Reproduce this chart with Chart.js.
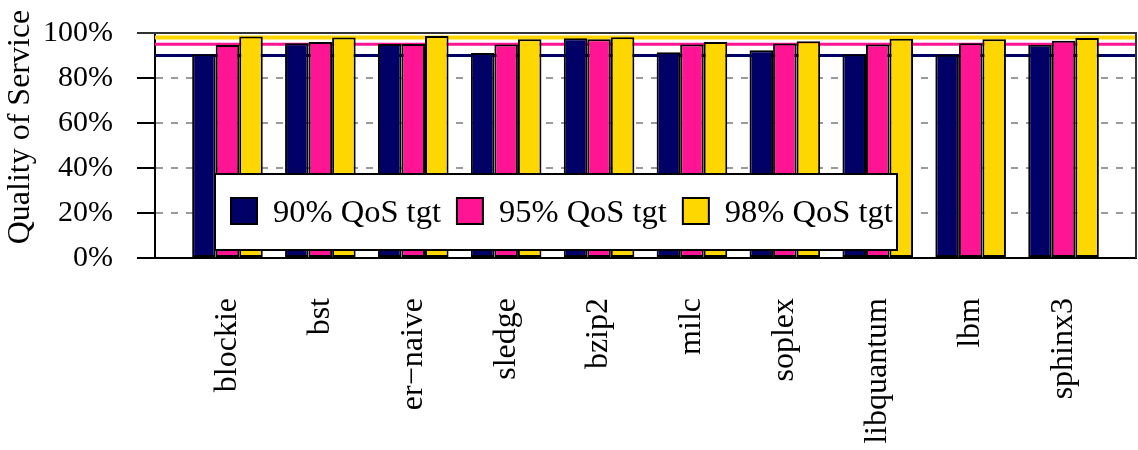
<!DOCTYPE html>
<html><head><meta charset="utf-8">
<script src="https://cdn.jsdelivr.net/npm/chart.js@4.4.1/dist/chart.umd.min.js"></script>
<style>html,body{margin:0;padding:0;background:#fff;}#wrap{width:1138px;height:450px;}</style>
</head><body><div id="wrap"><canvas id="c" width="1138" height="450"></canvas></div>
<script>
const categories = ['blockie','bst','er\u2212naive','sledge','bzip2','milc','soplex','libquantum','lbm','sphinx3'];
const seriesNames = ['90% QoS tgt','95% QoS tgt','98% QoS tgt'];
const qos90 = [90.6, 95.4, 95.1, 91.1, 97.7, 91.5, 92.3, 90.6, 90.3, 94.8];
const qos95 = [94.7, 96.0, 95.1, 94.9, 97.2, 94.9, 95.3, 94.9, 95.5, 96.6];
const qos98 = [98.4, 98.0, 98.7, 97.2, 98.1, 96.0, 96.3, 97.4, 97.2, 97.8];
const targetLines = [90, 95, 98];
const yTicks = [0, 20, 40, 60, 80, 100];
const colors = ['#000066', '#ff1493', '#ffd700'];
const FONT = '"Liberation Serif", "DejaVu Serif", serif';

const series = [qos90, qos95, qos98];

const decor = {
  id: 'decor',
  beforeDatasetsDraw(chart) {
    const {ctx, chartArea: a, scales: {y}} = chart;
    ctx.save();
    targetLines.forEach((v, i) => {
      ctx.strokeStyle = colors[i];
      ctx.lineWidth = i === 2 ? 4 : 3;
      const py = y.getPixelForValue(v);
      ctx.beginPath(); ctx.moveTo(a.left, py); ctx.lineTo(a.right, py); ctx.stroke();
    });
    ctx.restore();
  },
  afterDatasetsDraw(chart) {
    const {ctx, chartArea: a} = chart;
    ctx.save();
    // frame top & right
    ctx.strokeStyle = '#333'; ctx.lineWidth = 2;
    ctx.beginPath(); ctx.moveTo(a.left - 18, a.top); ctx.lineTo(a.right, a.top); ctx.lineTo(a.right, a.bottom); ctx.stroke();
    // legend
    const lx = 215, ly = 174, lw = 682, lh = 76;
    ctx.fillStyle = '#fff'; ctx.fillRect(lx, ly, lw, lh);
    ctx.strokeStyle = '#000'; ctx.lineWidth = 2; ctx.strokeRect(lx, ly, lw, lh);
    ctx.font = '32.5px ' + FONT; ctx.textBaseline = 'alphabetic'; ctx.textAlign = 'left';
    let x = lx + 16;
    seriesNames.forEach((name, i) => {
      ctx.fillStyle = colors[i]; ctx.fillRect(x, 198, 26, 26);
      ctx.strokeStyle = '#000'; ctx.lineWidth = 2; ctx.strokeRect(x, 198, 26, 26);
      ctx.fillStyle = '#000'; ctx.fillText(name, x + 42, 222);
      x += 42 + ctx.measureText(name).width + 16;
    });
    // y title
    ctx.translate(21, 127); ctx.rotate(-Math.PI / 2);
    ctx.textAlign = 'center'; ctx.textBaseline = 'middle'; ctx.font = '32px ' + FONT; ctx.fillStyle = '#000';
    ctx.fillText('Quality of Service', 0, 0);
    ctx.restore();
  }
};

new Chart(document.getElementById('c'), {
  type: 'bar',
  data: {
    datasets: series.map((vals, i) => ({
      label: seriesNames[i],
      data: vals.map((v, j) => ({x: j, y: v})),
      backgroundColor: colors[i],
      borderColor: '#000',
      borderWidth: 2,
      borderSkipped: false,
      categoryPercentage: 0.76,
      barPercentage: 1.0
    }))
  },
  options: {
    responsive: false,
    animation: false,
    devicePixelRatio: 1,
    layout: {padding: {top: 33, right: 2, left: 0, bottom: 0}},
    plugins: {legend: {display: false}, tooltip: {enabled: false}},
    scales: {
      x: {
        type: 'linear', min: -0.78, max: 9.78, offset: false,
        afterBuildTicks: s => { s.ticks = categories.map((_, i) => ({value: i})); },
        afterFit: s => { s.height = 192; s.paddingTop = 0; s.paddingBottom = 0; s.paddingLeft = 0; s.paddingRight = 0; },
        grid: {display: false, drawTicks: false, offset: false},
        border: {display: true, color: '#000', width: 2},
        ticks: {
          autoSkip: false, maxRotation: 90, minRotation: 90, padding: 40,
          color: '#000', font: {family: FONT, size: 32},
          callback: v => categories[v]
        }
      },
      y: {
        min: 0, max: 100,
        afterBuildTicks: s => { s.ticks = yTicks.map(v => ({value: v})); },
        afterFit: s => { s.width = 155; s.paddingTop = 0; s.paddingBottom = 0; },
        grid: {
          color: c => (c.tick && (c.tick.value === 0 || c.tick.value === 100)) ? 'rgba(0,0,0,0)' : '#9a9a9a',
          lineWidth: 2, tickLength: 18, tickColor: '#000', tickWidth: 2
        },
        border: {display: true, color: '#000', width: 2, dash: [7, 8]},
        ticks: {color: '#000', padding: 24, font: {family: FONT, size: 30}, callback: v => v + '%'}
      }
    }
  },
  plugins: [decor]
});
</script></body></html>
